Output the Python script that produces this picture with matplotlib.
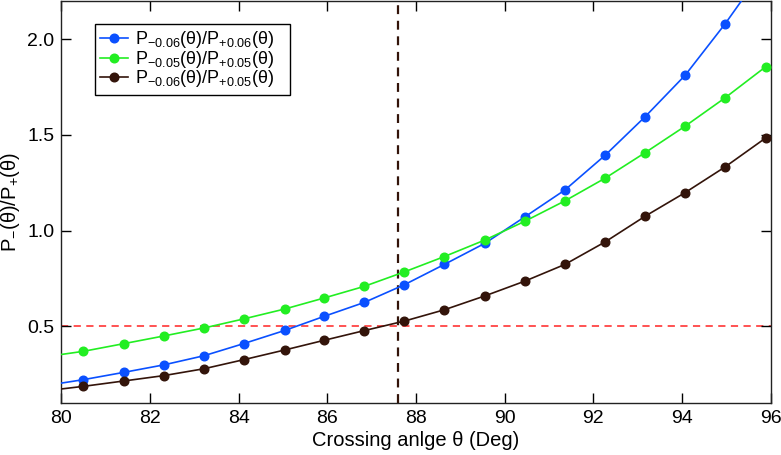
import numpy as np
import matplotlib
matplotlib.use('Agg')
import matplotlib.pyplot as plt

plt.rcParams['font.family'] = ['Liberation Sans', 'DejaVu Sans']
plt.rcParams['mathtext.default'] = 'regular'

# crossing angle (deg); the first point lies just left of the axis and is clipped
theta = [79.59, 80.50, 81.41, 82.31, 83.22, 84.11, 85.04, 85.92, 86.83, 87.74,
         88.64, 89.56, 90.46, 91.36, 92.27, 93.17, 94.07, 94.97, 95.89]

# ratios
r_06_06 = [0.189, 0.222, 0.260, 0.299, 0.347, 0.410, 0.479, 0.552, 0.625, 0.718,
           0.824, 0.935, 1.073, 1.213, 1.395, 1.596, 1.812, 2.080, 2.38]
r_05_05 = [0.340, 0.370, 0.410, 0.450, 0.492, 0.539, 0.591, 0.648, 0.709, 0.785,
           0.865, 0.952, 1.050, 1.156, 1.275, 1.408, 1.546, 1.694, 1.857]
r_06_05 = [0.162, 0.187, 0.215, 0.243, 0.279, 0.326, 0.377, 0.427, 0.478, 0.528,
           0.587, 0.660, 0.737, 0.824, 0.942, 1.076, 1.199, 1.333, 1.485]

labels = ['P$_{-0.06}$(θ)/P$_{+0.06}$(θ)   ',
          'P$_{-0.05}$(θ)/P$_{+0.05}$(θ)   ',
          'P$_{-0.06}$(θ)/P$_{+0.05}$(θ)   ']
colors = ['#0a50ff', '#22ee22', '#33140a']

theta_cross = 87.6
ratio_ref = 0.5

fig = plt.figure(figsize=(7.81, 4.55), dpi=100)
ax = fig.add_axes([0.0785, 0.1143, 0.9083, 0.8835])

ax.axhline(ratio_ref, color='#ff4444', ls=(0, (4, 3)), lw=1.3, zorder=1)
ax.axvline(theta_cross, color='#33140a', ls=(0, (4, 3)), lw=1.6, zorder=1)

for y, lab, c in zip([r_06_06, r_05_05, r_06_05], labels, colors):
    ax.plot(theta, y, '-o', color=c, lw=1.2, ms=6.2, label=lab, zorder=3)

ax.set_xlim(80, 96)
ax.set_ylim(0.1, 2.2)
ax.set_xticks(np.arange(80, 97, 2))
ax.set_yticks([0.5, 1.0, 1.5, 2.0])
ax.tick_params(direction='in', length=7, width=1, top=True, right=True,
               labelsize=14, pad=5)
for s in ax.spines.values():
    s.set_linewidth(1)
    s.set_color('#222222')

ax.set_xlabel('Crossing anlge θ (Deg)', fontsize=14.5, labelpad=3)
ax.set_ylabel('P$_{-}$(θ)/P$_{+}$(θ)', fontsize=14.5)
ax.yaxis.set_label_coords(-0.056, 0.5)

leg = ax.legend(loc='upper left', bbox_to_anchor=(0.0475, 0.943), fontsize=13,
                fancybox=False, edgecolor='black', framealpha=1,
                handlelength=1.5, handletextpad=0.4, borderpad=0.3,
                labelspacing=-0.08, borderaxespad=0)
leg.get_frame().set_linewidth(1)

fig.savefig('out.png', dpi=100)
